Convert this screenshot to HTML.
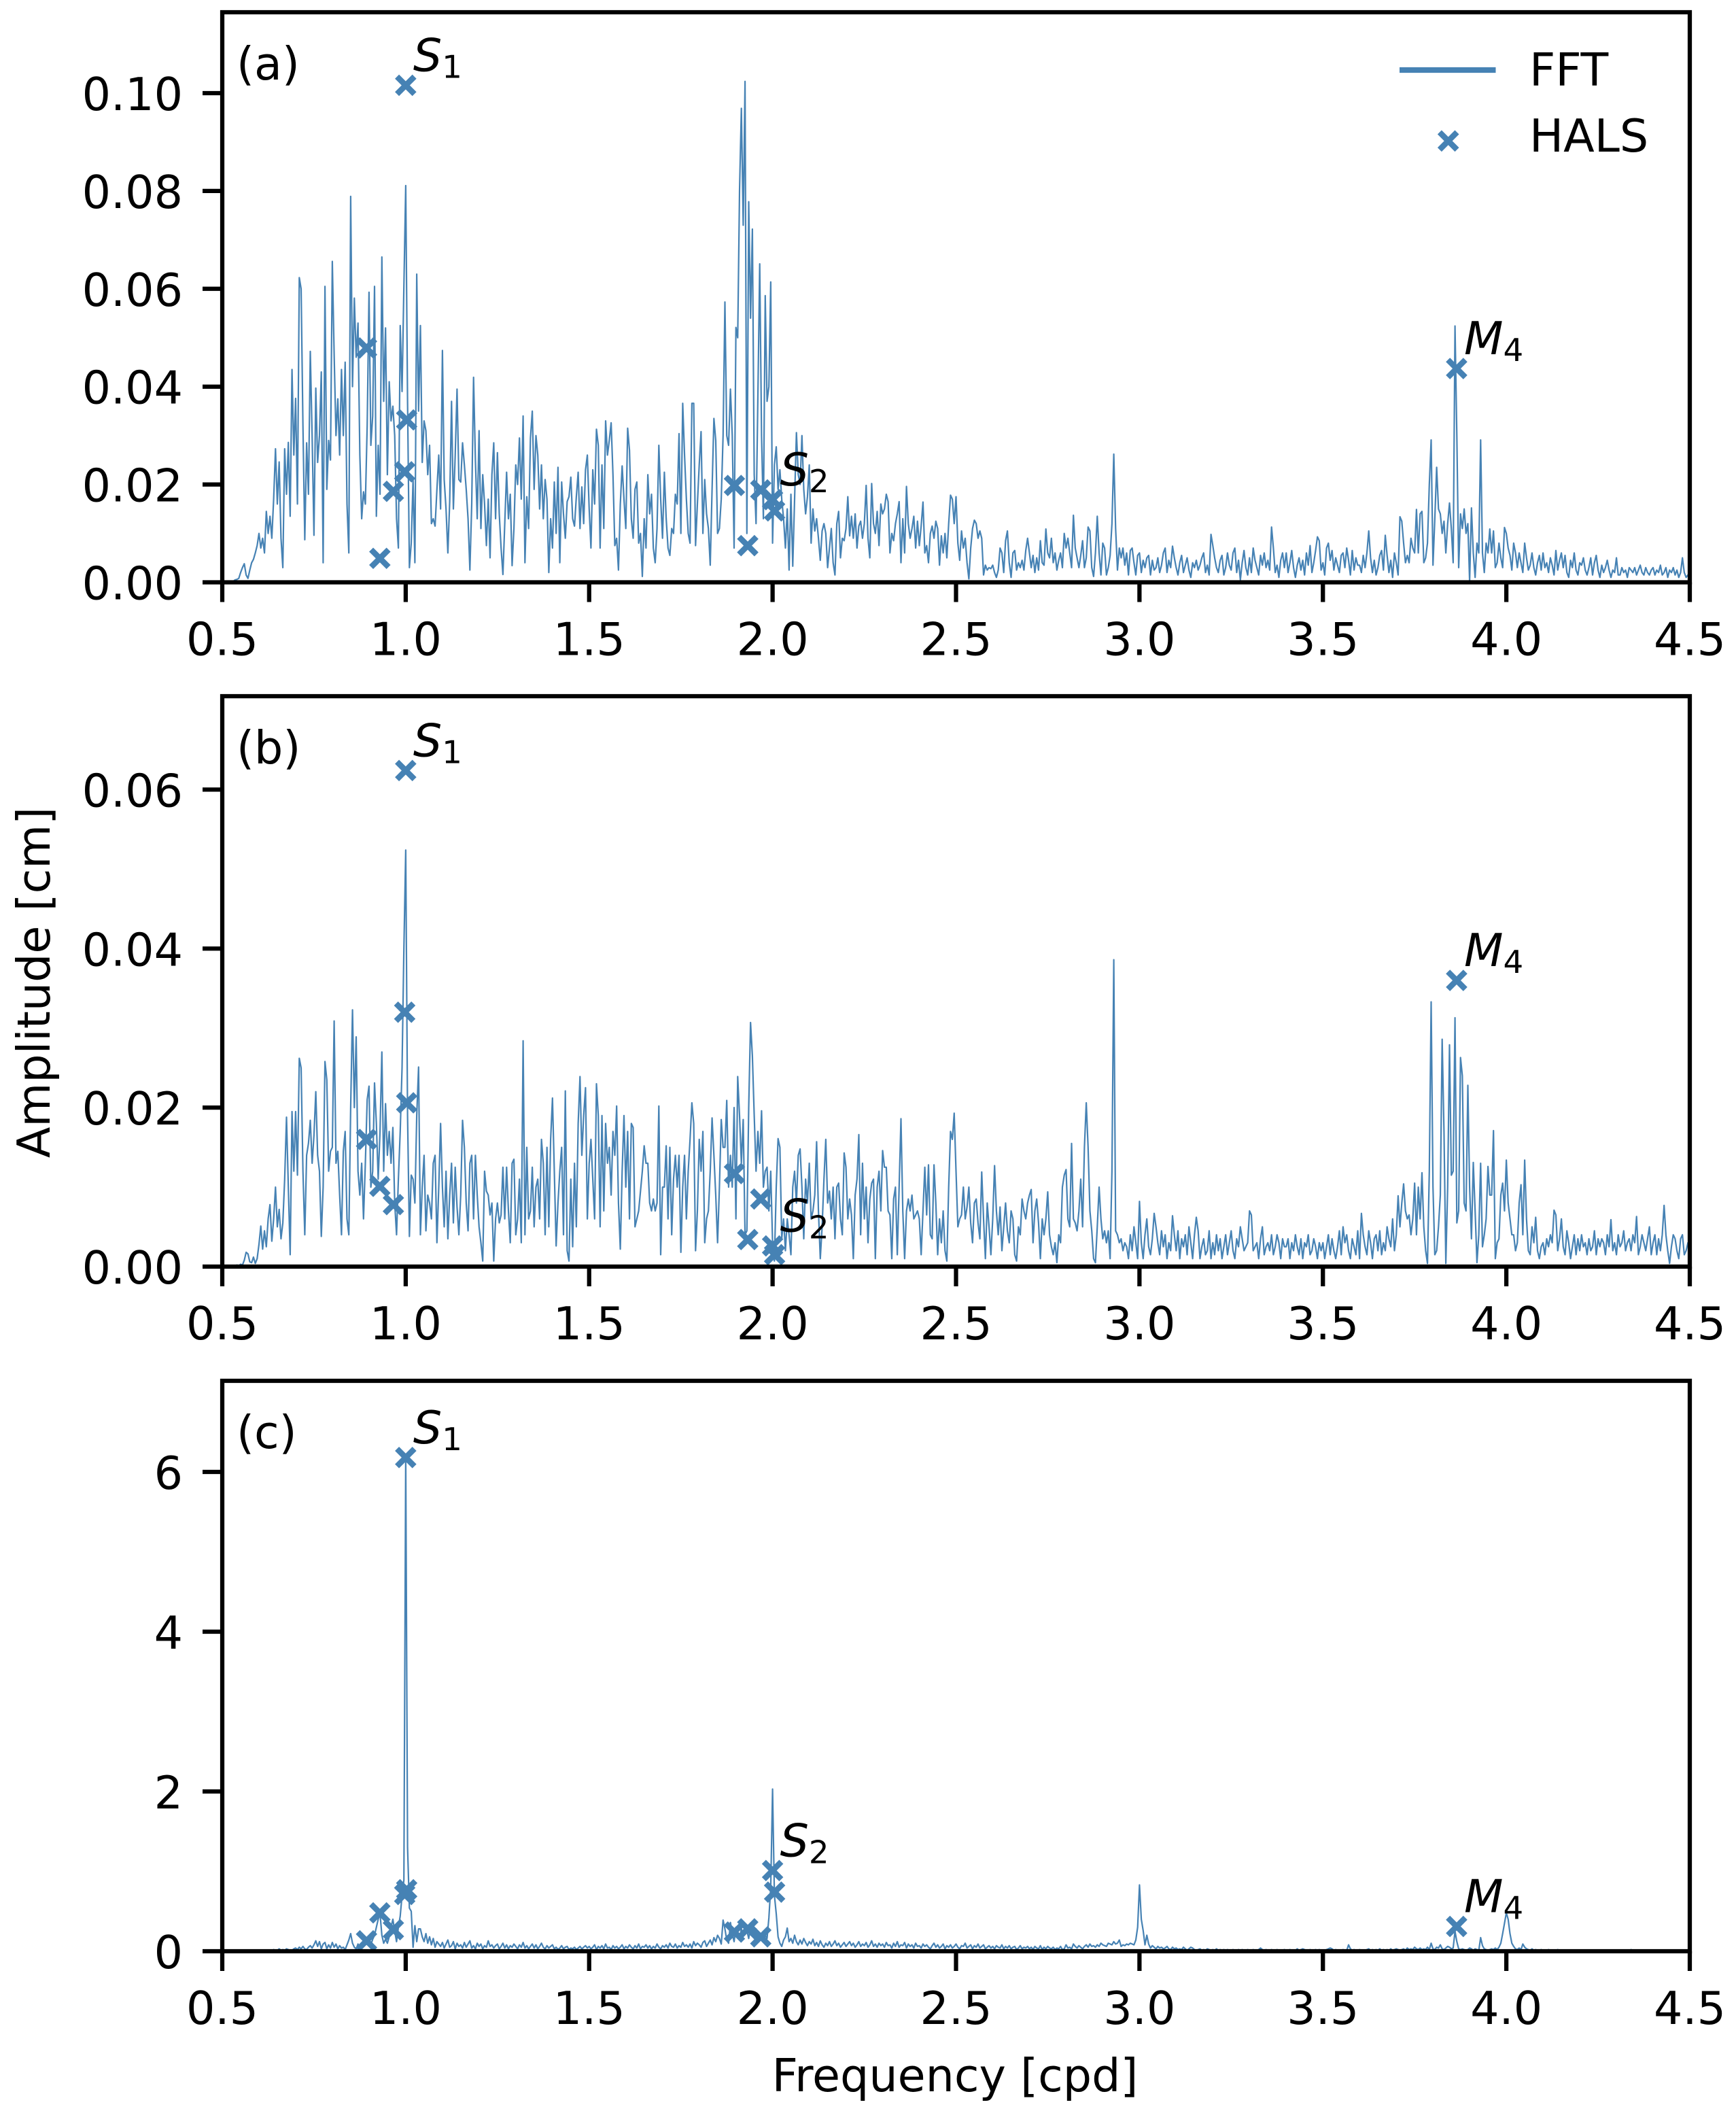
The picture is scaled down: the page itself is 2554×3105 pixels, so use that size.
<!DOCTYPE html>
<html lang="en">
<head>
<meta charset="utf-8">
<title>Amplitude spectra: FFT and HALS</title>
<style>
html,body{margin:0;padding:0;background:#fff;}
svg{display:block;}
text{font-family:"DejaVu Sans","Liberation Sans",sans-serif;font-size:66.67px;fill:#000;}
</style>
</head>
<body>
<svg id="figure" xmlns="http://www.w3.org/2000/svg" width="2554" height="3105" viewBox="0 0 2554 3105">
<rect x="0" y="0" width="2554" height="3105" fill="#fff"/>
<defs>
<clipPath id="clip-a"><rect x="327" y="18" width="2159" height="838.5"/></clipPath>
<clipPath id="clip-b"><rect x="327" y="1024" width="2159" height="839"/></clipPath>
<clipPath id="clip-c"><rect x="327" y="2031" width="2159" height="839"/></clipPath>
</defs>
<g id="panel-a"></g>
<g id="panel-b"></g>
<g id="panel-c"></g>
<text x="348" y="117">(a)</text>
<text x="348" y="1123">(b)</text>
<text x="348" y="2130">(c)</text>
<text text-anchor="middle" transform="translate(73,1445) rotate(-90)">Amplitude [cm]</text>
<text text-anchor="middle" x="1405" y="3076">Frequency [cpd]</text>
<g>
<line x1="2059" y1="103" x2="2200.5" y2="103" stroke="#4682b4" stroke-width="8.3"/>
<path d="M2117.9 194.5L2143.5 220.1M2117.9 220.1L2143.5 194.5" fill="none" stroke="#4682b4" stroke-width="8.5"/>
<text x="2250" y="126">FFT</text>
<text x="2250" y="223">HALS</text>
</g>
</svg>
<script>
// Frequency grid of the FFT series (cycles per day)
const freqStart = 0.5;
const freqStep = 0.005;

// Panel (a) FFT amplitude, in 1e-4 cm; each row spans 0.1 cpd
const fftA = [
0,0,0,0,0,0,2,5,6,8,20,30,38,15,8,25,40,47,60,75,
100,70,90,60,145,100,135,90,170,273,160,246,90,30,273,180,286,135,435,260,
376,160,623,600,320,87,285,180,472,300,96,397,245,300,430,40,605,190,290,250,
656,465,300,375,260,435,300,450,160,60,789,400,581,460,530,260,130,185,160,320,
593,280,340,605,135,280,180,665,370,520,220,410,330,360,300,130,70,525,390,605,
811,370,30,80,210,40,630,350,525,245,330,310,220,280,120,130,115,190,260,150,
474,210,150,60,165,370,150,260,395,210,205,285,240,190,130,25,160,419,250,130,
310,110,220,160,75,170,50,220,285,130,265,140,70,16,120,225,130,180,34,110,
240,200,295,170,340,40,175,110,295,350,190,300,260,150,240,130,210,170,20,130,
70,205,100,235,40,205,140,90,165,175,215,130,115,175,225,110,195,120,230,260,
150,70,230,160,313,280,70,240,110,330,260,290,326,220,75,90,25,160,238,170,
110,315,270,130,90,190,205,80,100,12,130,70,220,140,180,70,40,110,280,170,
90,225,130,70,55,110,100,180,160,304,100,366,260,170,100,80,366,366,75,160,
240,308,100,210,140,110,35,190,335,290,100,110,170,300,573,300,280,395,300,70,
521,500,800,969,730,1024,100,778,540,722,220,120,380,651,300,130,586,370,400,614,
80,240,277,190,230,170,130,70,150,25,180,33,170,306,220,200,300,190,140,175,
240,80,150,105,130,90,45,105,120,100,30,70,110,40,15,120,145,50,90,85,
110,175,95,135,90,140,70,115,125,90,120,198,90,50,202,120,100,145,75,160,
140,150,180,165,60,100,85,120,140,165,40,130,60,196,120,90,110,135,70,125,
75,115,164,60,75,40,100,115,90,125,110,35,95,60,100,50,120,178,170,120,
175,80,45,105,70,90,40,7,70,110,127,120,90,105,90,15,35,25,30,28,
35,20,10,25,70,60,20,85,105,40,10,60,65,25,40,30,45,25,65,90,
60,30,55,20,50,25,85,40,35,109,60,50,90,40,60,25,45,60,30,100,
70,90,60,30,137,70,50,30,55,85,30,50,113,105,30,12,60,135,60,15,
80,70,15,30,55,120,262,110,25,70,50,70,35,60,15,65,70,40,15,55,
60,20,45,30,50,55,15,45,25,30,50,20,35,60,70,20,45,30,74,50,
30,15,40,55,20,35,50,25,10,40,30,45,25,35,50,60,20,35,15,98,
75,50,30,20,45,55,15,30,60,35,25,60,70,20,45,5,40,65,30,15,
50,20,70,45,30,15,55,35,60,30,45,25,113,70,20,35,10,45,60,30,
60,20,40,65,30,10,35,50,25,45,15,60,35,75,20,40,65,93,85,25,
40,15,70,80,45,65,25,50,35,20,55,60,30,70,45,15,65,25,50,35,
35,20,55,30,60,105,50,20,45,15,30,55,65,25,96,55,20,45,10,60,
40,15,134,125,80,40,55,40,90,70,60,149,60,140,145,40,50,80,200,291,
35,130,235,150,140,100,125,60,120,162,110,40,524,300,30,140,110,150,100,120,
2,152,60,10,80,60,291,60,20,80,60,109,60,105,30,40,80,50,30,112,
100,70,55,25,80,60,30,60,40,20,80,50,25,35,60,30,15,40,55,25,
60,30,40,20,50,35,15,65,25,45,60,30,55,20,10,45,30,60,25,15,
40,35,50,25,15,30,50,15,40,55,25,10,35,20,30,45,25,10,25,20,
50,15,15,30,20,25,10,30,25,20,30,15,25,35,20,15,30,20,15,25,
30,15,25,20,35,15,20,30,10,25,20,30,15,25,10,20,50,20,10,15,
12
];

// Panel (b) FFT amplitude, in 1e-4 cm; each row spans 0.1 cpd
const fftB = [
0,0,0,0,0,0,0,1,2,1,3,2,8,18,16,6,5,12,4,10,
28,51,22,45,25,60,78,32,60,100,50,72,35,55,110,188,100,15,195,120,
195,115,262,250,120,40,140,155,184,130,165,220,140,120,38,100,258,235,120,145,
150,309,130,145,90,40,145,170,60,40,200,323,200,289,120,90,130,60,130,210,
227,100,120,231,180,110,170,270,120,205,140,170,130,175,80,40,110,170,250,400,
524,190,38,115,110,80,190,251,40,100,140,45,90,80,60,130,140,30,100,180,
100,50,120,35,90,130,55,125,75,40,90,184,150,80,45,130,140,60,140,90,
50,30,7,120,95,90,65,80,7,60,80,55,65,125,60,125,70,30,130,135,
40,60,110,30,284,40,150,60,70,125,50,100,110,60,160,130,40,150,50,160,
212,120,26,80,120,150,40,221,20,7,110,25,130,50,180,239,140,190,225,60,
130,160,110,60,230,190,50,190,70,180,130,150,90,170,140,202,80,22,120,190,
100,170,60,180,175,50,60,70,95,120,152,130,130,80,70,85,70,80,202,15,
100,100,152,60,150,40,110,140,100,140,18,100,140,60,120,160,206,180,20,70,
160,120,170,30,60,70,120,187,140,90,30,100,185,150,150,209,100,140,100,200,
60,239,190,130,185,40,45,200,307,265,190,120,170,130,196,100,120,125,70,120,
30,7,100,161,150,35,60,20,60,40,15,100,120,80,140,148,100,35,110,80,
130,60,70,90,157,70,10,50,110,160,80,95,60,100,35,100,105,60,40,143,
125,60,85,65,10,90,110,166,40,130,60,100,30,85,105,110,10,100,120,70,
146,125,125,70,65,10,85,100,15,100,186,70,10,70,85,70,90,60,65,70,
60,15,70,125,65,128,40,35,128,80,15,60,30,70,20,7,100,170,160,193,
120,50,60,65,100,60,75,100,55,30,80,85,55,35,119,60,10,80,50,15,
60,127,70,40,75,20,50,80,45,30,70,60,15,7,50,40,85,70,60,80,
90,97,30,70,85,55,10,60,40,60,94,40,25,15,30,5,40,30,100,115,
122,60,50,155,60,55,45,70,110,50,150,206,150,70,45,10,5,50,100,60,
35,45,30,45,10,120,386,45,40,30,35,20,30,25,10,40,20,50,30,10,
82,30,10,40,60,25,15,35,67,50,30,15,45,25,40,10,30,20,64,40,
20,45,10,35,25,40,15,50,30,10,40,62,45,10,25,35,15,20,45,10,
30,15,40,20,35,10,25,40,15,30,45,20,10,35,25,50,35,20,25,30,
70,65,20,25,30,10,35,50,15,25,30,20,40,15,25,40,30,10,35,25,
25,35,10,30,20,40,25,15,35,10,30,25,40,15,20,35,25,10,30,20,
30,10,25,40,15,35,20,10,25,45,15,50,30,40,20,10,35,25,15,45,
10,67,40,25,15,45,30,10,35,40,20,45,15,30,20,50,35,25,60,20,
40,89,50,80,104,70,60,65,40,60,105,40,100,60,118,50,20,4,120,333,
100,15,20,50,90,286,170,4,100,279,115,120,313,55,70,263,240,80,70,228,
100,35,131,70,5,40,130,25,40,60,126,90,90,171,10,30,35,90,105,70,
134,80,60,40,40,20,30,80,103,40,134,60,20,15,50,30,62,20,10,25,
30,15,35,25,40,30,71,65,20,35,60,25,15,45,30,10,25,40,15,35,
20,40,25,30,15,35,20,25,45,15,35,25,35,30,15,40,25,59,20,30,
15,40,25,30,45,20,30,35,20,40,30,63,15,25,40,30,20,35,50,15,
30,40,15,35,20,40,77,40,20,4,25,40,35,20,10,35,40,15,20,30,
18
];

// Panel (c) FFT amplitude, in 0.01 cm; each row spans 0.1 cpd
const fftC = [
0,0,0,0,0,0,0,0,0,0,0,0,0,0,0,0,0,0,0,0,
0,0,0,0,0,0,1,0,2,1,1,3,1,2,1,3,2,1,1,3,
4,2,5,3,6,3,2,5,7,4,8,13,6,12,3,9,11,3,8,4,
11,5,9,3,7,4,5,2,8,14,22,10,5,3,9,5,4,12,8,10,
12,8,15,20,30,40,47,20,10,15,10,18,30,40,25,12,30,44,70,89,
620,130,54,50,5,32,12,28,28,18,12,22,10,18,8,16,5,12,9,6,
11,4,9,14,5,7,12,3,10,6,8,4,11,5,9,13,4,7,3,10,
6,9,3,7,5,13,6,8,4,7,9,3,6,10,4,8,3,7,5,9,
6,3,8,5,11,4,7,3,6,9,4,8,3,6,10,5,3,7,4,6,
8,3,5,2,4,7,3,5,6,2,4,3,5,2,4,6,3,5,7,4,
6,3,5,8,2,6,4,7,3,9,4,5,2,7,4,6,3,5,8,3,
6,4,8,5,3,7,4,9,3,6,5,8,4,7,3,6,4,9,5,3,
7,5,8,4,10,6,5,9,4,7,5,11,6,8,5,9,4,12,7,10,
8,5,11,13,6,10,14,8,17,12,20,16,9,39,28,14,10,36,22,12,
30,18,14,28,20,34,26,16,30,24,18,28,14,22,18,12,20,16,42,80,
203,70,47,18,10,6,14,18,29,12,16,10,20,12,8,14,9,16,11,7,
12,9,15,7,11,6,13,8,5,10,7,12,6,9,13,7,10,5,8,11,
6,9,12,7,10,5,8,12,6,9,7,11,5,8,13,6,9,5,10,7,
9,5,11,7,8,4,10,6,12,5,8,7,11,4,9,6,8,4,10,6,
7,4,9,6,8,5,3,7,10,5,8,4,6,9,3,7,5,8,4,6,
9,5,3,7,6,10,4,6,8,3,7,5,9,4,6,8,3,5,7,4,
6,3,7,5,4,8,3,6,4,7,3,5,6,2,4,7,3,5,4,6,
3,5,2,6,4,3,7,2,5,3,6,4,3,5,2,4,3,6,2,3,
8,4,5,3,9,6,4,7,5,3,6,8,5,9,6,7,5,8,6,10,
8,7,6,10,9,8,12,9,10,14,6,8,7,9,8,10,9,8,14,30,
83,40,26,8,20,9,4,7,5,3,6,4,5,3,4,6,3,2,5,3,
4,2,3,2,5,3,1,3,5,4,2,1,2,3,1,2,1,3,2,1,
2,1,3,1,2,1,2,1,2,1,1,2,1,1,2,1,2,1,1,2,
1,1,2,1,1,2,4,2,1,2,1,1,2,1,1,2,1,1,1,2,
1,1,2,1,1,1,3,1,2,3,2,1,1,2,1,1,2,1,2,1,
1,1,2,3,4,3,1,2,1,1,1,2,1,1,8,3,1,2,1,1,
2,1,1,1,2,3,1,2,1,2,1,3,1,2,1,2,1,3,1,2,
3,2,1,2,3,1,4,2,3,2,5,3,2,4,2,3,2,5,2,10,
3,2,5,4,8,3,2,4,6,5,3,4,25,12,3,2,3,2,1,2,
4,3,1,3,2,1,17,7,3,2,1,2,3,2,4,2,5,10,22,35,
48,40,22,10,6,3,2,4,2,9,5,3,2,1,3,1,2,1,1,2,
1,1,1,2,1,1,1,1,2,1,1,1,0,1,1,0,1,1,0,1,
0,0,1,0,0,0,1,0,0,0,0,1,0,0,0,0,0,1,0,0,
0,0,1,0,0,0,0,0,2,1,0,0,0,0,0,1,0,0,0,0,
0,0,0,0,0,0,0,0,0,1,0,0,0,0,0,1,0,0,0,0,
0
];

// HALS constituent frequencies (cpd), shared by all panels
const halsFreq = [0.8932, 0.9295, 0.9664, 0.9973, 1.0, 1.0027, 1.896, 1.9323, 1.9678, 2.0, 2.0055, 3.8645];
// HALS amplitudes: panels (a), (b) in 1e-4 cm, panel (c) in 0.01 cm
const halsA = [479, 49, 186, 226, 1016, 332, 198, 75, 189, 169, 146, 437];
const halsB = [160, 101, 78, 320, 624, 206, 117, 34, 85, 26, 15, 360];
const halsC = [13, 48, 27, 71, 618, 77, 24, 28, 18, 101, 74, 31];

// Annotated constituents
const annotationSymbols = ['S', 'S', 'M'];
const annotationSubscripts = ['1', '2', '4'];
const annotationIndex = [4, 9, 11];

// Tick values and labels
const xTickValues = [0.5, 1.0, 1.5, 2.0, 2.5, 3.0, 3.5, 4.0, 4.5];
const xTickLabels = ['0.5', '1.0', '1.5', '2.0', '2.5', '3.0', '3.5', '4.0', '4.5'];
const yTicksA = [0, 0.02, 0.04, 0.06, 0.08, 0.10];
const yLabelsA = ['0.00', '0.02', '0.04', '0.06', '0.08', '0.10'];
const yTicksB = [0, 0.02, 0.04, 0.06];
const yLabelsB = ['0.00', '0.02', '0.04', '0.06'];
const yTicksC = [0, 2, 4, 6];
const yLabelsC = ['0', '2', '4', '6'];

const SVG_NS = 'http://www.w3.org/2000/svg';
const STEEL = '#4682b4';
const AX_LEFT = 327;
const AX_RIGHT = 2486;

function xScale(f) {
  return AX_LEFT + (f - 0.5) * (AX_RIGHT - AX_LEFT) / 4;
}

function drawPanel(id, top, bottom, yMax, unit, fft, hals, yTicks, yLabels) {
  const group = document.getElementById('panel-' + id);
  const yScale = function (v) { return bottom - v * (bottom - top) / yMax; };

  const points = [];
  for (let i = 0; i < fft.length; i++) {
    points.push(xScale(freqStart + i * freqStep).toFixed(1) + ',' + yScale(fft[i] * unit).toFixed(1));
  }
  const line = document.createElementNS(SVG_NS, 'polyline');
  
  
  line.setAttribute('points', points.join(' '));
  line.setAttribute('fill', 'none');
  line.setAttribute('stroke', STEEL);
  line.setAttribute('stroke-width', '2.2');
  line.setAttribute('stroke-linejoin', 'round');
  line.setAttribute('clip-path', 'url(#clip-' + id + ')');
  group.appendChild(line);

  for (let i = 0; i < hals.length; i++) {
    const cx = xScale(halsFreq[i]);
    const cy = yScale(hals[i] * unit);
    const r = 12.8;
    const mark = document.createElementNS(SVG_NS, 'path');
    
    
    mark.setAttribute('d', 'M' + (cx - r) + ' ' + (cy - r) + 'L' + (cx + r) + ' ' + (cy + r) + 'M' + (cx - r) + ' ' + (cy + r) + 'L' + (cx + r) + ' ' + (cy - r));
    mark.setAttribute('fill', 'none');
    mark.setAttribute('stroke', STEEL);
    mark.setAttribute('stroke-width', '8.5');
    group.appendChild(mark);
  }

  for (let i = 0; i < annotationIndex.length; i++) {
    const k = annotationIndex[i];
    const label = document.createElementNS(SVG_NS, 'text');
    
    
    label.setAttribute('x', (xScale(halsFreq[k]) + 11).toFixed(1));
    label.setAttribute('y', (yScale(hals[k] * unit) - 21).toFixed(1));
    const symbol = document.createElementNS(SVG_NS, 'tspan');
    symbol.setAttribute('font-style', 'italic');
    symbol.textContent = annotationSymbols[i];
    label.appendChild(symbol);
    const sub = document.createElementNS(SVG_NS, 'tspan');
    sub.setAttribute('dy', '10');
    sub.setAttribute('style', 'font-size:46.67px');
    sub.textContent = annotationSubscripts[i];
    label.appendChild(sub);
    group.appendChild(label);
  }

  const frame = document.createElementNS(SVG_NS, 'rect');
  
  
  frame.setAttribute('x', AX_LEFT);
  frame.setAttribute('y', top);
  frame.setAttribute('width', AX_RIGHT - AX_LEFT);
  frame.setAttribute('height', bottom - top);
  frame.setAttribute('fill', 'none');
  frame.setAttribute('stroke', '#000');
  frame.setAttribute('stroke-width', '6.25');
  group.appendChild(frame);

  for (let i = 0; i < xTickValues.length; i++) {
    const x = xScale(xTickValues[i]);
    const tick = document.createElementNS(SVG_NS, 'line');
    
    
    tick.setAttribute('x1', x);
    tick.setAttribute('x2', x);
    tick.setAttribute('y1', bottom);
    tick.setAttribute('y2', bottom + 29);
    tick.setAttribute('stroke', '#000');
    tick.setAttribute('stroke-width', '6.25');
    group.appendChild(tick);
    const text = document.createElementNS(SVG_NS, 'text');
    
    
    text.setAttribute('x', x);
    text.setAttribute('y', bottom + 107);
    text.setAttribute('text-anchor', 'middle');
    text.textContent = xTickLabels[i];
    group.appendChild(text);
  }

  for (let i = 0; i < yTicks.length; i++) {
    const y = yScale(yTicks[i]);
    const tick = document.createElementNS(SVG_NS, 'line');
    
    
    tick.setAttribute('x1', AX_LEFT - 29);
    tick.setAttribute('x2', AX_LEFT);
    tick.setAttribute('y1', y);
    tick.setAttribute('y2', y);
    tick.setAttribute('stroke', '#000');
    tick.setAttribute('stroke-width', '6.25');
    group.appendChild(tick);
    const text = document.createElementNS(SVG_NS, 'text');
    
    
    text.setAttribute('x', AX_LEFT - 58);
    text.setAttribute('y', y + 25);
    text.setAttribute('text-anchor', 'end');
    text.textContent = yLabels[i];
    group.appendChild(text);
  }
}

drawPanel('a', 18, 856.5, 0.11654, 1e-4, fftA, halsA, yTicksA, yLabelsA);
drawPanel('b', 1024, 1863, 0.07175, 1e-4, fftB, halsB, yTicksB, yLabelsB);
drawPanel('c', 2031, 2870, 7.14, 0.01, fftC, halsC, yTicksC, yLabelsC);
</script>
</body>
</html>
